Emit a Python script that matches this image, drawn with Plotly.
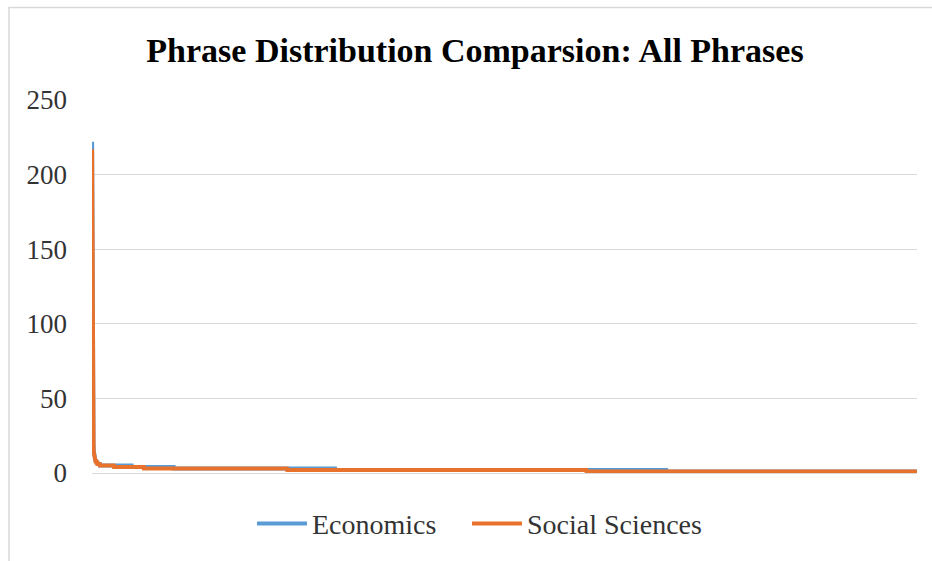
import numpy as np
import plotly.graph_objects as go

# Rank-frequency data, stored as (frequency level, number of consecutive ranks at that level)
econ_levels = [222, 140, 85, 55, 38, 28, 22, 18, 15, 13, 12, 11, 10, 9, 8, 7, 6, 5, 4, 3, 2, 1]
econ_counts = [1, 1, 1, 1, 1, 1, 1, 1, 1, 1, 1, 1, 2, 3, 4, 6, 11, 155, 204, 782, 1606, 1215]

social_levels = [217, 130, 80, 52, 36, 27, 21, 17, 14, 12, 11, 10, 9, 8, 7, 6, 5, 4, 3, 2, 1]
social_counts = [1, 1, 1, 1, 1, 1, 1, 1, 1, 1, 1, 2, 3, 4, 6, 12, 68, 145, 695, 1451, 1603]

series_names = ["Economics", "Social Sciences"]
series_colors = ["#5B9BD5", "#E8722C"]

y_ticks = [0, 50, 100, 150, 200, 250]
title_text = "Phrase Distribution Comparsion: All Phrases"

econ = np.repeat(econ_levels, econ_counts)
social = np.repeat(social_levels, social_counts)
ranks = np.arange(1, len(econ) + 1)

W, H = 932, 561
L, R, T, B = 92, 15, 100, 86
plot_w = W - L - R
plot_h = H - T - B


def px_x(px):
    return (px - L) / plot_w


def px_y(py):
    return (H - B - py) / plot_h


legend_ids = ["legend", "legend2"]
legend_left = [252, 467]

fig = go.Figure()
for name, vals, col, lg in zip(series_names, [econ, social], series_colors, legend_ids):
    fig.add_trace(go.Scatter(
        x=ranks, y=vals, mode="lines", name=name,
        line=dict(color=col, width=4),
        legend=lg,
        hoverinfo="skip",
    ))

legend_style = dict(
    orientation="h",
    xanchor="left",
    y=-51 / plot_h, yanchor="middle",
    font=dict(family="Liberation Serif", size=28, color="#333333"),
    itemwidth=50,
    bgcolor="rgba(0,0,0,0)",
)

fig.update_layout(
    width=W, height=H,
    margin=dict(l=L, r=R, t=T, b=B),
    paper_bgcolor="white",
    plot_bgcolor="white",
    font=dict(family="Liberation Serif", color="#333333"),
    title=dict(
        text=f"<b>{title_text}</b>",
        x=475 / W, xanchor="center", xref="container",
        y=1 - 50 / H, yanchor="middle", yref="container",
        font=dict(family="Liberation Serif", size=34, color="#000000"),
    ),
    xaxis=dict(
        range=[0.5, len(ranks) + 0.5],
        showticklabels=False, showgrid=False, zeroline=False,
        ticks="", showline=False, fixedrange=True,
    ),
    yaxis=dict(
        range=[0, 250],
        tickvals=y_ticks,
        tickfont=dict(family="Liberation Serif", size=27, color="#333333"),
        showgrid=True, gridcolor="#D9D9D9", gridwidth=1,
        zeroline=True, zerolinecolor="#D9D9D9", zerolinewidth=1,
        showline=False, ticks="", ticklabelstandoff=24,
    ),
    legend=dict(x=px_x(legend_left[0]), **legend_style),
    legend2=dict(x=px_x(legend_left[1]), **legend_style),
    showlegend=True,
    shapes=[
        dict(
            type="rect", xref="paper", yref="paper",
            x0=px_x(9), x1=px_x(940), y0=px_y(570), y1=px_y(7),
            line=dict(color="#D9D9D9", width=1.5),
            fillcolor="rgba(0,0,0,0)", layer="below",
        )
    ],
)

fig.write_html("out.html")
